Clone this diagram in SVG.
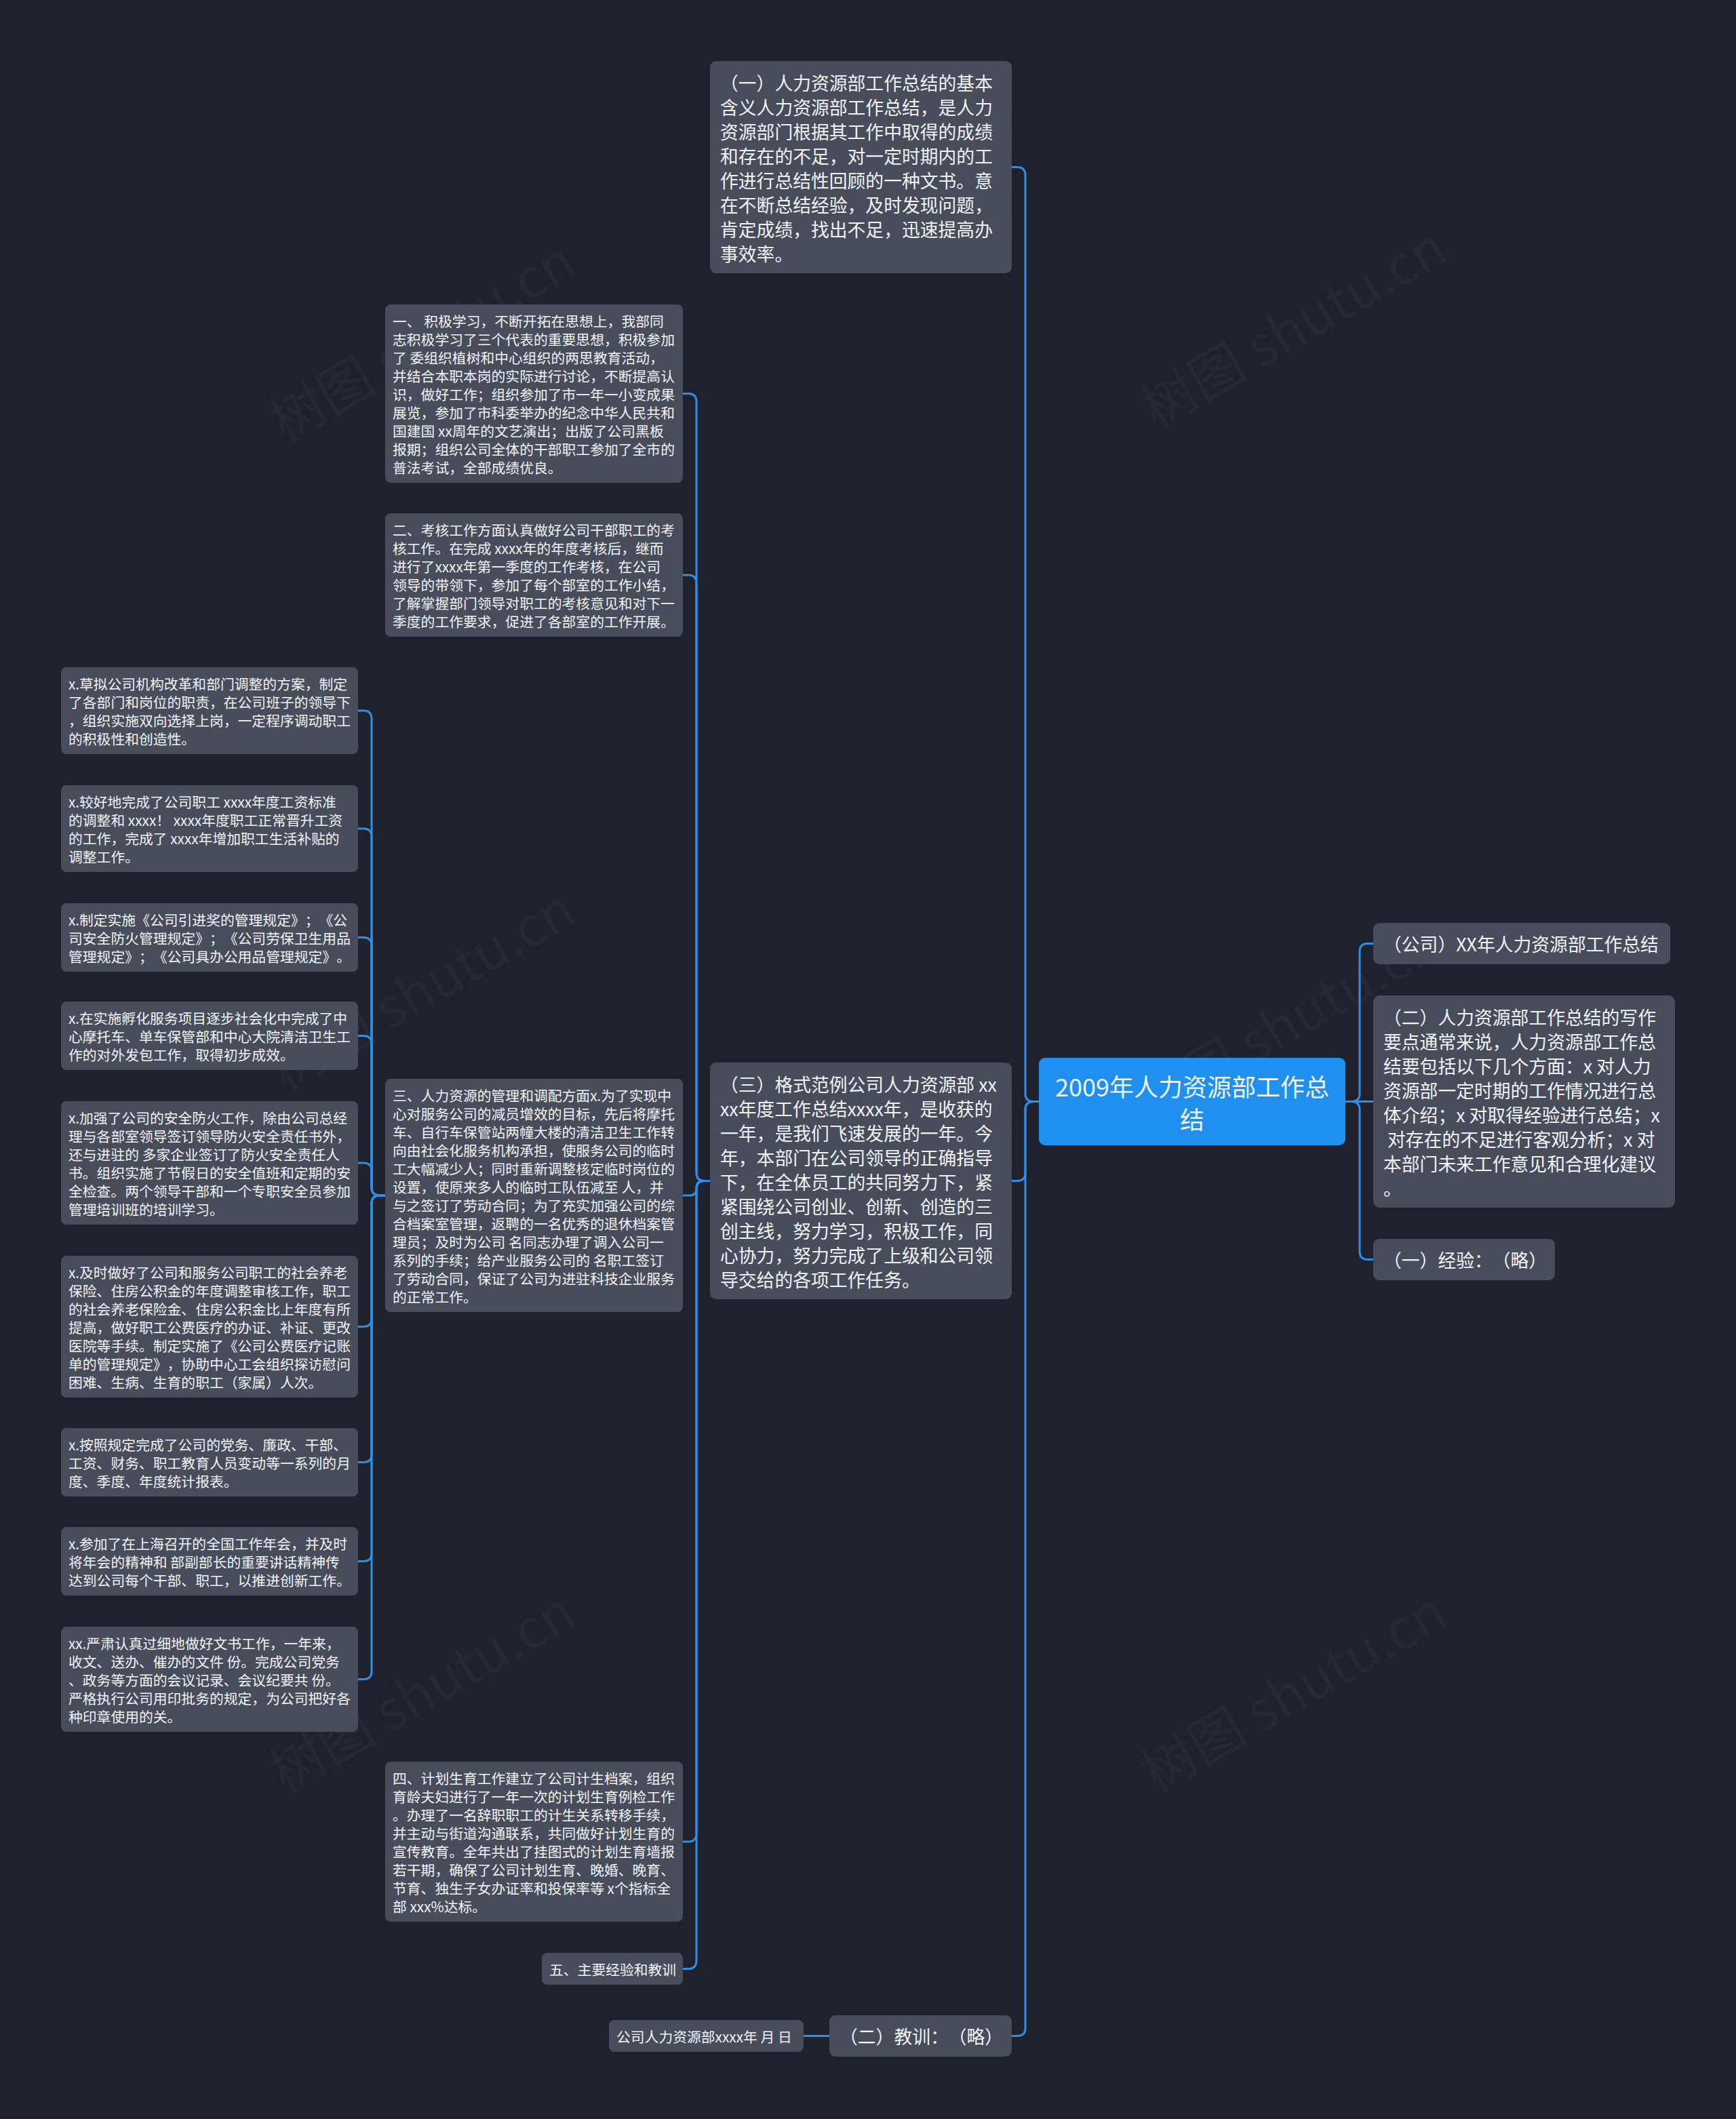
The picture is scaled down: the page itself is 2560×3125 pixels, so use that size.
<svg xmlns="http://www.w3.org/2000/svg" width="2560" height="3125" viewBox="0 0 2560 3125">
<style>
text{font-family:"Noto Sans CJK SC","Noto Sans",sans-serif;fill:#f2f3f5;white-space:pre;dominant-baseline:central;text-spacing-trim:space-all;font-feature-settings:"halt" 0,"chws" 0}
.n{fill:#474d5b}
.root{fill:#1f8ff0}
.t0{font-size:36px}
.t1{font-size:26.8px}
.t2{font-size:20.8px}
.c{fill:none;stroke:#2f8fe6;stroke-width:3;stroke-linecap:round}
.wm{font-size:80px;fill:#ffffff;fill-opacity:0.035;dominant-baseline:auto}
</style>
<rect x="0" y="0" width="2560" height="3125" fill="#1f222d"/>
<g id="watermarks">
<text class="wm" text-anchor="middle" transform="translate(637,528) rotate(-30)">树图 shutu.cn</text>
<text class="wm" text-anchor="middle" transform="translate(1922,508) rotate(-30)">树图 shutu.cn</text>
<text class="wm" text-anchor="middle" transform="translate(637,1484) rotate(-30)">树图 shutu.cn</text>
<text class="wm" text-anchor="middle" transform="translate(1912,1534) rotate(-30)">树图 shutu.cn</text>
<text class="wm" text-anchor="middle" transform="translate(637,2520) rotate(-30)">树图 shutu.cn</text>
<text class="wm" text-anchor="middle" transform="translate(1922,2520) rotate(-30)">树图 shutu.cn</text>
</g>
<g id="connectors">
<path class="c" d="M1532,1624.5 H1524 Q1512,1624.5 1512,1612.5 V258.5 Q1512,246.5 1500,246.5 H1492"/>
<path class="c" d="M1532,1624.5 H1524 Q1512,1624.5 1512,1636.5 V1729.5 Q1512,1741.5 1500,1741.5 H1492"/>
<path class="c" d="M1532,1624.5 H1524 Q1512,1624.5 1512,1636.5 V2990.5 Q1512,3002.5 1500,3002.5 H1492"/>
<path class="c" d="M1984,1624.5 H1993 Q2005,1624.5 2005,1612.5 V1403.5 Q2005,1391.5 2017,1391.5 H2025"/>
<path class="c" d="M1984,1624.5 H2025"/>
<path class="c" d="M1984,1624.5 H1993 Q2005,1624.5 2005,1636.5 V1845.5 Q2005,1857.5 2017,1857.5 H2025"/>
<path class="c" d="M1047,1741.5 H1039 Q1027,1741.5 1027,1729.5 V592.5 Q1027,580.5 1015,580.5 H1007"/>
<path class="c" d="M1047,1741.5 H1039 Q1027,1741.5 1027,1729.5 V860 Q1027,848 1015,848 H1007"/>
<path class="c" d="M1047,1741.5 H1037 Q1027,1741.5 1027,1751.5 V1753 Q1027,1763 1017,1763 H1007"/>
<path class="c" d="M1047,1741.5 H1039 Q1027,1741.5 1027,1753.5 V2704 Q1027,2716 1015,2716 H1007"/>
<path class="c" d="M1047,1741.5 H1039 Q1027,1741.5 1027,1753.5 V2891.5 Q1027,2903.5 1015,2903.5 H1007"/>
<path class="c" d="M568,1763 H560 Q548,1763 548,1751 V1060 Q548,1048 536,1048 H528"/>
<path class="c" d="M568,1763 H560 Q548,1763 548,1751 V1234 Q548,1222 536,1222 H528"/>
<path class="c" d="M568,1763 H560 Q548,1763 548,1751 V1394.5 Q548,1382.5 536,1382.5 H528"/>
<path class="c" d="M568,1763 H560 Q548,1763 548,1751 V1539.5 Q548,1527.5 536,1527.5 H528"/>
<path class="c" d="M568,1763 H560 Q548,1763 548,1751 V1727 Q548,1715 536,1715 H528"/>
<path class="c" d="M568,1763 H560 Q548,1763 548,1775 V1944.5 Q548,1956.5 536,1956.5 H528"/>
<path class="c" d="M568,1763 H560 Q548,1763 548,1775 V2144.5 Q548,2156.5 536,2156.5 H528"/>
<path class="c" d="M568,1763 H560 Q548,1763 548,1775 V2290.5 Q548,2302.5 536,2302.5 H528"/>
<path class="c" d="M568,1763 H560 Q548,1763 548,1775 V2464.5 Q548,2476.5 536,2476.5 H528"/>
<path class="c" d="M1223,3002.5 H1185"/>
</g>
<g id="root">
<rect class="root" x="1532" y="1560" width="452" height="129" rx="9"/>
<text class="t0" text-anchor="middle"><tspan x="1758" y="1600.5">2009年人力资源部工作总</tspan><tspan x="1758" y="1648.5">结</tspan></text>
</g>
<g id="n-yi">
<rect class="n" x="1047" y="90" width="445" height="313" rx="9"/>
<text class="t1"><tspan x="1062" y="120.5">（一）人力资源部工作总结的基本</tspan><tspan x="1062" y="156.5">含义人力资源部工作总结，是人力</tspan><tspan x="1062" y="192.5">资源部门根据其工作中取得的成绩</tspan><tspan x="1062" y="228.5">和存在的不足，对一定时期内的工</tspan><tspan x="1062" y="264.5">作进行总结性回顾的一种文书。意</tspan><tspan x="1062" y="300.5">在不断总结经验，及时发现问题，</tspan><tspan x="1062" y="336.5">肯定成绩，找出不足，迅速提高办</tspan><tspan x="1062" y="372.5">事效率。</tspan></text>
</g>
<g id="n-san">
<rect class="n" x="1047" y="1567" width="445" height="349" rx="9"/>
<text class="t1"><tspan x="1062" y="1597.5">（三）格式范例公司人力资源部 xx</tspan><tspan x="1062" y="1633.5">xx年度工作总结xxxx年，是收获的</tspan><tspan x="1062" y="1669.5">一年，是我们飞速发展的一年。今</tspan><tspan x="1062" y="1705.5">年，本部门在公司领导的正确指导</tspan><tspan x="1062" y="1741.5">下，在全体员工的共同努力下，紧</tspan><tspan x="1062" y="1777.5">紧围绕公司创业、创新、创造的三</tspan><tspan x="1062" y="1813.5">创主线，努力学习，积极工作，同</tspan><tspan x="1062" y="1849.5">心协力，努力完成了上级和公司领</tspan><tspan x="1062" y="1885.5">导交给的各项工作任务。</tspan></text>
</g>
<g id="n-jiaoxun">
<rect class="n" x="1223" y="2972" width="269" height="61" rx="9"/>
<text class="t1" x="1238" y="3002.5">（二）教训：（略）</text>
</g>
<g id="n-date">
<rect class="n" x="898" y="2979" width="287" height="47" rx="8"/>
<text class="t2" x="909" y="3002.5">公司人力资源部xxxx年 月 日</text>
</g>
<g id="n-r1">
<rect class="n" x="2025" y="1361" width="438" height="61" rx="9"/>
<text class="t1" x="2040" y="1391.5">（公司）XX年人力资源部工作总结</text>
</g>
<g id="n-r2">
<rect class="n" x="2025" y="1468" width="445" height="313" rx="9"/>
<text class="t1"><tspan x="2040" y="1498.5">（二）人力资源部工作总结的写作</tspan><tspan x="2040" y="1534.5">要点通常来说，人力资源部工作总</tspan><tspan x="2040" y="1570.5">结要包括以下几个方面：x 对人力</tspan><tspan x="2040" y="1606.5">资源部一定时期的工作情况进行总</tspan><tspan x="2040" y="1642.5">体介绍；x 对取得经验进行总结；x</tspan><tspan x="2040" y="1678.5"> 对存在的不足进行客观分析；x 对</tspan><tspan x="2040" y="1714.5">本部门未来工作意见和合理化建议</tspan><tspan x="2040" y="1750.5">。</tspan></text>
</g>
<g id="n-r3">
<rect class="n" x="2025" y="1827" width="268" height="61" rx="9"/>
<text class="t1" x="2040" y="1857.5">（一）经验：（略）</text>
</g>
<g id="n-a">
<rect class="n" x="568" y="449" width="439" height="263" rx="8"/>
<text class="t2"><tspan x="579" y="472.5">一、 积极学习，不断开拓在思想上，我部同</tspan><tspan x="579" y="499.5">志积极学习了三个代表的重要思想，积极参加</tspan><tspan x="579" y="526.5">了 委组织植树和中心组织的两思教育活动，</tspan><tspan x="579" y="553.5">并结合本职本岗的实际进行讨论，不断提高认</tspan><tspan x="579" y="580.5">识，做好工作；组织参加了市一年一小变成果</tspan><tspan x="579" y="607.5">展览，参加了市科委举办的纪念中华人民共和</tspan><tspan x="579" y="634.5">国建国 xx周年的文艺演出；出版了公司黑板</tspan><tspan x="579" y="661.5">报期；组织公司全体的干部职工参加了全市的</tspan><tspan x="579" y="688.5">普法考试，全部成绩优良。</tspan></text>
</g>
<g id="n-b">
<rect class="n" x="568" y="757" width="439" height="182" rx="8"/>
<text class="t2"><tspan x="579" y="780.5">二、考核工作方面认真做好公司干部职工的考</tspan><tspan x="579" y="807.5">核工作。在完成 xxxx年的年度考核后，继而</tspan><tspan x="579" y="834.5">进行了xxxx年第一季度的工作考核，在公司</tspan><tspan x="579" y="861.5">领导的带领下，参加了每个部室的工作小结，</tspan><tspan x="579" y="888.5">了解掌握部门领导对职工的考核意见和对下一</tspan><tspan x="579" y="915.5">季度的工作要求，促进了各部室的工作开展。</tspan></text>
</g>
<g id="n-c">
<rect class="n" x="568" y="1591" width="439" height="344" rx="8"/>
<text class="t2"><tspan x="579" y="1614.5">三、人力资源的管理和调配方面x.为了实现中</tspan><tspan x="579" y="1641.5">心对服务公司的减员增效的目标，先后将摩托</tspan><tspan x="579" y="1668.5">车、自行车保管站两幢大楼的清洁卫生工作转</tspan><tspan x="579" y="1695.5">向由社会化服务机构承担，使服务公司的临时</tspan><tspan x="579" y="1722.5">工大幅减少人；同时重新调整核定临时岗位的</tspan><tspan x="579" y="1749.5">设置，使原来多人的临时工队伍减至 人，并</tspan><tspan x="579" y="1776.5">与之签订了劳动合同；为了充实加强公司的综</tspan><tspan x="579" y="1803.5">合档案室管理，返聘的一名优秀的退休档案管</tspan><tspan x="579" y="1830.5">理员；及时为公司 名同志办理了调入公司一</tspan><tspan x="579" y="1857.5">系列的手续；给产业服务公司的 名职工签订</tspan><tspan x="579" y="1884.5">了劳动合同，保证了公司为进驻科技企业服务</tspan><tspan x="579" y="1911.5">的正常工作。</tspan></text>
</g>
<g id="n-d">
<rect class="n" x="568" y="2598" width="439" height="236" rx="8"/>
<text class="t2"><tspan x="579" y="2621.5">四、计划生育工作建立了公司计生档案，组织</tspan><tspan x="579" y="2648.5">育龄夫妇进行了一年一次的计划生育例检工作</tspan><tspan x="579" y="2675.5">。办理了一名辞职职工的计生关系转移手续，</tspan><tspan x="579" y="2702.5">并主动与街道沟通联系，共同做好计划生育的</tspan><tspan x="579" y="2729.5">宣传教育。全年共出了挂图式的计划生育墙报</tspan><tspan x="579" y="2756.5">若干期，确保了公司计划生育、晚婚、晚育、</tspan><tspan x="579" y="2783.5">节育、独生子女办证率和投保率等 x个指标全</tspan><tspan x="579" y="2810.5">部 xxx%达标。</tspan></text>
</g>
<g id="n-e">
<rect class="n" x="799" y="2880" width="208" height="47" rx="8"/>
<text class="t2" x="810" y="2903.5">五、主要经验和教训</text>
</g>
<g id="n-x1">
<rect class="n" x="90" y="984" width="438" height="128" rx="8"/>
<text class="t2"><tspan x="101" y="1007.5">x.草拟公司机构改革和部门调整的方案，制定</tspan><tspan x="101" y="1034.5">了各部门和岗位的职责，在公司班子的领导下</tspan><tspan x="101" y="1061.5">，组织实施双向选择上岗，一定程序调动职工</tspan><tspan x="101" y="1088.5">的积极性和创造性。</tspan></text>
</g>
<g id="n-x2">
<rect class="n" x="90" y="1158" width="438" height="128" rx="8"/>
<text class="t2"><tspan x="101" y="1181.5">x.较好地完成了公司职工 xxxx年度工资标准</tspan><tspan x="101" y="1208.5">的调整和 xxxx！ xxxx年度职工正常晋升工资</tspan><tspan x="101" y="1235.5">的工作，完成了 xxxx年增加职工生活补贴的</tspan><tspan x="101" y="1262.5">调整工作。</tspan></text>
</g>
<g id="n-x3">
<rect class="n" x="90" y="1332" width="438" height="101" rx="8"/>
<text class="t2"><tspan x="101" y="1355.5">x.制定实施《公司引进奖的管理规定》；《公</tspan><tspan x="101" y="1382.5">司安全防火管理规定》；《公司劳保卫生用品</tspan><tspan x="101" y="1409.5">管理规定》；《公司具办公用品管理规定》。</tspan></text>
</g>
<g id="n-x4">
<rect class="n" x="90" y="1477" width="438" height="101" rx="8"/>
<text class="t2"><tspan x="101" y="1500.5">x.在实施孵化服务项目逐步社会化中完成了中</tspan><tspan x="101" y="1527.5">心摩托车、单车保管部和中心大院清洁卫生工</tspan><tspan x="101" y="1554.5">作的对外发包工作，取得初步成效。</tspan></text>
</g>
<g id="n-x5">
<rect class="n" x="90" y="1624" width="438" height="182" rx="8"/>
<text class="t2"><tspan x="101" y="1647.5">x.加强了公司的安全防火工作，除由公司总经</tspan><tspan x="101" y="1674.5">理与各部室领导签订领导防火安全责任书外，</tspan><tspan x="101" y="1701.5">还与进驻的 多家企业签订了防火安全责任人</tspan><tspan x="101" y="1728.5">书。组织实施了节假日的安全值班和定期的安</tspan><tspan x="101" y="1755.5">全检查。两个领导干部和一个专职安全员参加</tspan><tspan x="101" y="1782.5">管理培训班的培训学习。</tspan></text>
</g>
<g id="n-x6">
<rect class="n" x="90" y="1852" width="438" height="209" rx="8"/>
<text class="t2"><tspan x="101" y="1875.5">x.及时做好了公司和服务公司职工的社会养老</tspan><tspan x="101" y="1902.5">保险、住房公积金的年度调整审核工作，职工</tspan><tspan x="101" y="1929.5">的社会养老保险金、住房公积金比上年度有所</tspan><tspan x="101" y="1956.5">提高，做好职工公费医疗的办证、补证、更改</tspan><tspan x="101" y="1983.5">医院等手续。制定实施了《公司公费医疗记账</tspan><tspan x="101" y="2010.5">单的管理规定》，协助中心工会组织探访慰问</tspan><tspan x="101" y="2037.5">困难、生病、生育的职工（家属）人次。</tspan></text>
</g>
<g id="n-x7">
<rect class="n" x="90" y="2106" width="438" height="101" rx="8"/>
<text class="t2"><tspan x="101" y="2129.5">x.按照规定完成了公司的党务、廉政、干部、</tspan><tspan x="101" y="2156.5">工资、财务、职工教育人员变动等一系列的月</tspan><tspan x="101" y="2183.5">度、季度、年度统计报表。</tspan></text>
</g>
<g id="n-x8">
<rect class="n" x="90" y="2252" width="438" height="101" rx="8"/>
<text class="t2"><tspan x="101" y="2275.5">x.参加了在上海召开的全国工作年会，并及时</tspan><tspan x="101" y="2302.5">将年会的精神和 部副部长的重要讲话精神传</tspan><tspan x="101" y="2329.5">达到公司每个干部、职工，以推进创新工作。</tspan></text>
</g>
<g id="n-x9">
<rect class="n" x="90" y="2399" width="438" height="155" rx="8"/>
<text class="t2"><tspan x="101" y="2422.5">xx.严肃认真过细地做好文书工作，一年来，</tspan><tspan x="101" y="2449.5">收文、送办、催办的文件 份。完成公司党务</tspan><tspan x="101" y="2476.5">、政务等方面的会议记录、会议纪要共 份。</tspan><tspan x="101" y="2503.5">严格执行公司用印批务的规定，为公司把好各</tspan><tspan x="101" y="2530.5">种印章使用的关。</tspan></text>
</g>
</svg>
